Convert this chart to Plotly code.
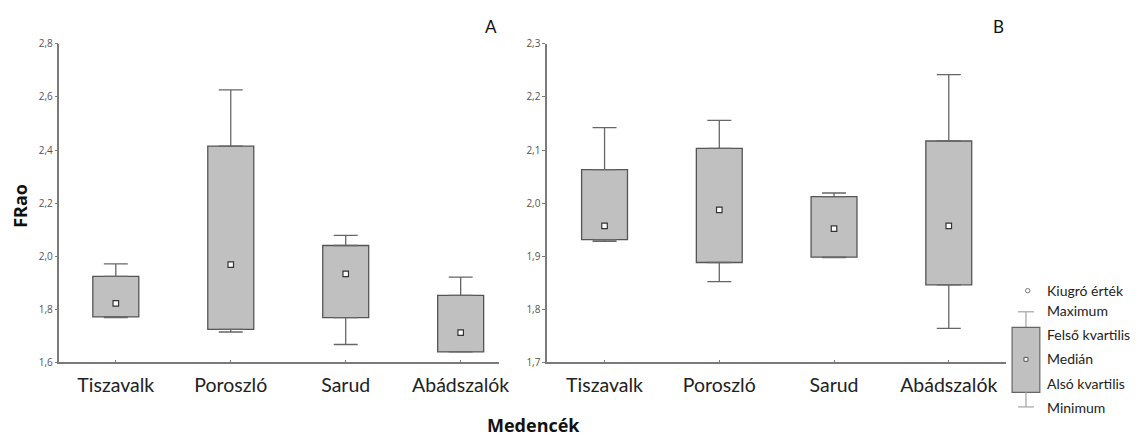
import plotly.graph_objects as go

categories = ["Tiszavalk", "Poroszló", "Sarud", "Abádszalók"]

# Panel A
a_min = [1.768, 1.714, 1.667, 1.639]
a_q1 = [1.771, 1.724, 1.768, 1.639]
a_med = [1.822, 1.968, 1.933, 1.712]
a_q3 = [1.924, 2.415, 2.040, 1.852]
a_max = [1.971, 2.627, 2.078, 1.921]

# Panel B
b_min = [1.928, 1.852, 1.897, 1.764]
b_q1 = [1.931, 1.888, 1.898, 1.846]
b_med = [1.957, 1.987, 1.952, 1.957]
b_q3 = [2.063, 2.103, 2.012, 2.117]
b_max = [2.142, 2.156, 2.019, 2.242]

legend_labels = ["Kiugró érték", "Maximum", "Felső kvartilis", "Medián", "Alsó kvartilis", "Minimum"]

BOX_FILL = "#c0c0c0"
BOX_LINE = "#555555"
WHISK = "#666666"
AXIS = "#7a7a7a"
TICKFONT = dict(family="Open Sans, Arial, sans-serif", size=10, color="#5a5050")
CATFONT = dict(family="Lato, Open Sans, sans-serif", size=19.5, color="#222222")

fig = go.Figure()


def add_panel(xa, ya, mn, q1, med, q3, mx):
    fig.add_trace(go.Bar(
        x=categories, y=[h - l for h, l in zip(q3, q1)], base=q1, width=0.4,
        marker=dict(color=BOX_FILL, line=dict(color=BOX_LINE, width=1.3)),
        xaxis=xa, yaxis=ya, showlegend=False, hoverinfo="skip"))
    fig.add_trace(go.Scatter(
        x=categories, y=q3, mode="markers", marker=dict(opacity=0, size=1),
        error_y=dict(type="data", symmetric=False,
                     array=[h - l for h, l in zip(mx, q3)], arrayminus=[0] * len(q3),
                     color=WHISK, thickness=1.3, width=12),
        xaxis=xa, yaxis=ya, showlegend=False, hoverinfo="skip"))
    fig.add_trace(go.Scatter(
        x=categories, y=q1, mode="markers", marker=dict(opacity=0, size=1),
        error_y=dict(type="data", symmetric=False,
                     array=[0] * len(q1), arrayminus=[h - l for h, l in zip(q1, mn)],
                     color=WHISK, thickness=1.3, width=12),
        xaxis=xa, yaxis=ya, showlegend=False, hoverinfo="skip"))
    fig.add_trace(go.Scatter(
        x=categories, y=med, mode="markers",
        marker=dict(symbol="square", size=5.5, color="white", line=dict(color="#333333", width=1.2)),
        xaxis=xa, yaxis=ya, showlegend=False, hoverinfo="skip"))


add_panel("x", "y", a_min, a_q1, a_med, a_q3, a_max)
add_panel("x2", "y2", b_min, b_q1, b_med, b_q3, b_max)

W, H = 1145, 443
ydom = [(H - 366) / H, (H - 38) / H]

common_x = dict(showline=True, linecolor=AXIS, linewidth=1.5, ticks="inside", ticklen=3,
                tickcolor=AXIS, showgrid=False, zeroline=False, tickfont=CATFONT,
                type="category", ticklabelstandoff=5)
common_y = dict(showline=True, linecolor=AXIS, linewidth=1.5, ticks="outside", ticklen=3,
                tickcolor=AXIS, showgrid=False, zeroline=False, tickfont=TICKFONT)

fig.update_layout(
    width=W, height=H, margin=dict(l=0, r=0, t=0, b=0),
    paper_bgcolor="white", plot_bgcolor="white", separators=", ",
    barmode="overlay",
    xaxis=dict(domain=[60 / W, 503 / W], range=[-0.49, 3.33], anchor="y", **common_x),
    yaxis=dict(domain=ydom, range=[1.6, 2.8], dtick=0.2, tickformat=".1f", anchor="x", **common_y),
    xaxis2=dict(domain=[552 / W, 1015 / W], range=[-0.5, 3.5], anchor="y2", **common_x),
    yaxis2=dict(domain=ydom, range=[1.7, 2.3], dtick=0.1, tickformat=".1f", anchor="x2", **common_y),
)

ann_font = dict(family="Lato, Open Sans, sans-serif", size=17, color="#111111")
fig.add_annotation(x=495 / W, y=1 - 20 / H, xref="paper", yref="paper", text="A",
                   showarrow=False, font=ann_font, xanchor="center", yanchor="middle")
fig.add_annotation(x=1007 / W, y=1 - 20 / H, xref="paper", yref="paper", text="B",
                   showarrow=False, font=ann_font, xanchor="center", yanchor="middle")
fig.add_annotation(x=20 / W, y=1 - 205 / H, xref="paper", yref="paper", text="<b>FRao</b>",
                   showarrow=False, textangle=-90,
                   font=dict(family="Open Sans, sans-serif", size=18, color="#111111"),
                   xanchor="center", yanchor="middle")
fig.add_annotation(x=538 / W, y=1 - 431 / H, xref="paper", yref="paper", text="<b>Medencék</b>",
                   showarrow=False,
                   font=dict(family="Open Sans, sans-serif", size=18, color="#111111"),
                   xanchor="center", yanchor="middle")

# Legend key (drawn in paper coordinates)
LG = "#aaaaaa"
def px(x):
    return x / W
def py(y):
    return 1 - y / H

fig.add_shape(type="circle", xref="paper", yref="paper",
              x0=px(1034.5), x1=px(1039), y0=py(294.5), y1=py(290), line=dict(color="#777", width=1))
fig.add_shape(type="line", xref="paper", yref="paper", x0=px(1027), x1=px(1043), y0=py(314), y1=py(314),
              line=dict(color=LG, width=1.3))
fig.add_shape(type="line", xref="paper", yref="paper", x0=px(1035), x1=px(1035), y0=py(314), y1=py(330),
              line=dict(color=LG, width=1.3))
fig.add_shape(type="rect", xref="paper", yref="paper", x0=px(1021), x1=px(1049), y0=py(330), y1=py(397),
              fillcolor=BOX_FILL, line=dict(color="#666", width=1.2))
fig.add_shape(type="rect", xref="paper", yref="paper", x0=px(1033), x1=px(1037), y0=py(361), y1=py(365),
              fillcolor="white", line=dict(color="#555", width=1))
fig.add_shape(type="line", xref="paper", yref="paper", x0=px(1035), x1=px(1035), y0=py(397), y1=py(412),
              line=dict(color=LG, width=1.3))
fig.add_shape(type="line", xref="paper", yref="paper", x0=px(1027), x1=px(1043), y0=py(412), y1=py(412),
              line=dict(color=LG, width=1.3))

legend_y = [292, 313, 337, 362, 388, 413]
for lab, yy in zip(legend_labels, legend_y):
    fig.add_annotation(x=px(1054), y=py(yy), xref="paper", yref="paper", text=lab, showarrow=False,
                       xanchor="left", yanchor="middle",
                       font=dict(family="Lato, Open Sans, sans-serif", size=14, color="#222222"))

fig.write_html("out.html")
